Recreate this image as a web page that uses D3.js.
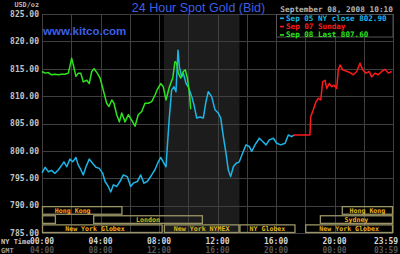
<!DOCTYPE html>
<html>
<head>
<meta charset="utf-8">
<script src="https://cdn.jsdelivr.net/npm/d3@7"></script>
<style>
  html, body { margin: 0; padding: 0; background: #000; }
  svg { display: block; }
  .mono { font-family: "DejaVu Sans Mono", monospace; font-weight: bold; }
</style>
</head>
<body>
<svg id="chart" width="400" height="254"></svg>
<script>
// hours are NY time, values USD/oz
const sep05Hours = [0, 0.21, 0.43, 0.66, 0.89, 1.11, 1.35, 1.5, 1.69, 1.91, 2.1, 2.32, 2.48, 2.65, 2.82, 3.01, 3.23, 3.47, 3.69, 3.92, 4.15, 4.31, 4.53, 4.7, 4.88, 5.11, 5.33, 5.56, 5.83, 6.06, 6.24, 6.52, 6.75, 6.97, 7.2, 7.5, 7.73, 7.95, 8.12, 8.34, 8.48, 8.57, 8.7, 8.86, 9.03, 9.16, 9.3, 9.39, 9.55, 9.66, 9.85, 10.0, 10.24, 10.39, 10.58, 10.8, 11.03, 11.21, 11.37, 11.6, 11.83, 12.05, 12.22, 12.4, 12.58, 12.74, 12.9, 13.08, 13.26, 13.49, 13.72, 13.95, 14.17, 14.34, 14.56, 14.86, 15.09, 15.32, 15.54, 15.82, 16.05, 16.32, 16.62, 16.84, 17.07, 17.23];
const sep05Values = [796.0, 797.0, 796.2, 796.4, 795.9, 796.5, 797.4, 798.0, 797.1, 798.5, 798.0, 798.8, 797.4, 796.6, 795.6, 797.1, 798.5, 797.7, 797.0, 796.8, 795.9, 794.4, 793.5, 792.5, 793.8, 793.5, 794.4, 795.6, 795.3, 793.5, 794.1, 794.4, 795.6, 794.1, 794.4, 795.6, 796.6, 798.0, 798.8, 797.7, 797.1, 800.8, 805.9, 811.1, 811.7, 810.8, 818.4, 815.4, 813.5, 814.2, 812.3, 811.7, 809.9, 808.4, 806.0, 806.2, 806.0, 809.0, 810.8, 809.9, 807.5, 806.9, 806.0, 802.6, 799.6, 796.5, 795.3, 797.1, 797.7, 798.0, 799.6, 801.1, 800.8, 799.9, 801.1, 802.3, 801.7, 801.1, 802.0, 802.3, 801.4, 801.1, 801.4, 802.9, 802.6, 802.9];

const sep07Hours = [17.23, 18.32, 18.37, 18.55, 18.74, 18.89, 19.06, 19.19, 19.35, 19.47, 19.64, 19.81, 19.97, 20.15, 20.26, 20.38, 20.56, 20.79, 21.06, 21.29, 21.52, 21.74, 21.93, 22.15, 22.38, 22.54, 22.77, 22.99, 23.23, 23.45, 23.68, 23.91];
const sep07Values = [802.9, 802.9, 806.2, 807.5, 809.0, 809.6, 809.3, 812.6, 812.9, 811.4, 812.3, 811.7, 812.0, 811.4, 814.8, 815.7, 814.8, 814.6, 814.3, 813.9, 814.5, 816.0, 814.8, 814.2, 814.5, 813.5, 814.2, 813.9, 814.5, 814.9, 814.2, 814.5];

const sep08Hours = [0, 0.21, 0.43, 0.66, 0.89, 1.11, 1.35, 1.57, 1.8, 2.03, 2.14, 2.32, 2.48, 2.65, 2.82, 3.06, 3.23, 3.4, 3.56, 3.78, 3.97, 4.19, 4.42, 4.58, 4.77, 4.92, 5.11, 5.29, 5.45, 5.68, 5.9, 6.13, 6.36, 6.58, 6.82, 7.04, 7.27, 7.5, 7.73, 7.88, 8.12, 8.29, 8.48, 8.7, 8.94, 9.09, 9.21, 9.32, 9.48, 9.66, 9.8, 9.94, 10.07, 10.17];
const sep08Values = [814.5, 814.2, 814.3, 813.9, 814.0, 813.9, 814.0, 814.0, 814.2, 816.9, 815.7, 813.6, 814.2, 814.2, 812.6, 812.9, 812.3, 814.5, 815.0, 814.2, 813.3, 811.1, 808.7, 808.1, 809.3, 808.7, 806.6, 805.3, 806.9, 805.3, 806.6, 805.6, 804.5, 806.6, 807.2, 808.7, 808.7, 809.0, 810.2, 811.2, 812.3, 811.7, 809.3, 811.6, 813.3, 816.3, 816.0, 814.2, 813.3, 814.5, 814.8, 813.3, 810.8, 807.6];

const legendLabels = ["Sep 05 NY close 802.90", "Sep 07 Sunday", "Sep 08 Last 807.60"];
const yTicks = [825, 820, 815, 810, 805, 800, 795, 790, 785];
const nyTickHours = [0, 4, 8, 12, 16, 20, 23.983];
const nyTickLabels = ["00:00", "04:00", "08:00", "12:00", "16:00", "20:00", "23:59"];
const gmtTickLabels = ["04:00", "08:00", "12:00", "16:00", "20:00", "00:00", "03:59"];

// trading sessions: row, start hour, end hour (negative = opened the previous day)
const sessionRows = [0, 0, 1, 1, 1, 2, 2, 2, 2];
const sessionStart = [-1.3, 20.5, -1, 3.5, 19, -1, 8.333, 13.5, 18];
const sessionEnd = [5.5, 24, 0.95, 11, 24, 8.25, 13.5, 17.33, 24];
const sessionNames = ["Hong Kong", "Hong Kong", "", "London", "Sydney", "New York Globex", "New York NYMEX", "NY Globex", "New York Globex"];
const nymexOpen = [8.333, 13.5];

const W = 400, H = 254;
const plot = { left: 42, right: 393, top: 14, bottom: 233 };
const COLORS = { cyan: "#1cb6e6", red: "#ff1a1a", green: "#2ee41e", grid: "#3f3f3f" };

const svg = d3.select("#chart");
svg.append("rect").attr("width", W).attr("height", H).attr("fill", "#000");

const x = d3.scaleLinear().domain([0, 24]).range([plot.left, plot.right]);
const y = d3.scaleLinear().domain([785, 825]).range([plot.bottom, plot.top]);

// NYMEX floor hours shading
svg.append("rect")
  .attr("x", x(nymexOpen[0]))
  .attr("y", plot.top)
  .attr("width", x(nymexOpen[1]) - x(nymexOpen[0]))
  .attr("height", plot.bottom - plot.top)
  .attr("fill", "#1c1c1c");

const grid = svg.append("g").attr("stroke", COLORS.grid).attr("stroke-width", 1);
grid.selectAll("line.v")
  .data(d3.range(0, 25, 2))
  .join("line")
  .attr("x1", (d) => Math.round(x(d)) + 0.5)
  .attr("x2", (d) => Math.round(x(d)) + 0.5)
  .attr("y1", plot.top)
  .attr("y2", plot.bottom);
grid.selectAll("line.h")
  .data(yTicks)
  .join("line")
  .attr("x1", plot.left)
  .attr("x2", plot.right)
  .attr("y1", (d) => Math.round(y(d)) + 0.5)
  .attr("y2", (d) => Math.round(y(d)) + 0.5);

// session boxes in the 785-790 band
const rowH = (y(785) - y(790)) / 3;
const sessions = sessionRows.map((r, i) => ({
  row: r, start: sessionStart[i], end: sessionEnd[i], name: sessionNames[i]
}));
const sess = svg.append("g");
sess.selectAll("rect")
  .data(sessions)
  .join("rect")
  .attr("x", (d) => x(Math.max(0, d.start)) + 0.5)
  .attr("y", (d) => y(790) + d.row * rowH + 1)
  .attr("width", (d) => x(d.end) - x(Math.max(0, d.start)) - 1)
  .attr("height", rowH - 1.5)
  .attr("fill", "none")
  .attr("stroke", "#9a9466")
  .attr("stroke-width", 1.3);
sess.selectAll("text")
  .data(sessions)
  .join("text")
  .attr("class", "mono")
  .attr("x", (d) => (x(d.start) + x(d.end)) / 2)
  .attr("y", (d) => y(790) + d.row * rowH + rowH / 2 + 0.5)
  .attr("dy", "0.35em")
  .attr("text-anchor", "middle")
  .attr("font-size", 6.6)
  .attr("fill", "#e6b420")
  .text((d) => d.name);

// price lines
const line = d3.line().x((d) => x(d[0])).y((d) => y(d[1]));
const series = [
  { hours: sep05Hours, values: sep05Values, color: COLORS.cyan },
  { hours: sep07Hours, values: sep07Values, color: COLORS.red },
  { hours: sep08Hours, values: sep08Values, color: COLORS.green },
];
series.forEach((s) => {
  svg.append("path")
    .datum(d3.zip(s.hours, s.values))
    .attr("fill", "none")
    .attr("stroke", s.color)
    .attr("stroke-width", 1.5)
    .attr("stroke-linejoin", "round")
    .attr("d", line);
});

// legend
const legend = svg.append("g");
legend.append("rect")
  .attr("x", 276.5).attr("y", plot.top + 0.5)
  .attr("width", plot.right - 276.5).attr("height", 22.5)
  .attr("fill", "#000").attr("stroke", "#555");
legendLabels.forEach((label, i) => {
  const c = series[i].color;
  legend.append("rect")
    .attr("x", 280).attr("y", 17.5 + i * 8.3)
    .attr("width", 4).attr("height", 1.6)
    .attr("fill", c);
  legend.append("text")
    .attr("class", "mono")
    .attr("x", 286).attr("y", 20.8 + i * 8.3)
    .attr("font-size", 7.6)
    .attr("fill", c)
    .text(label);
});

// y tick labels
svg.append("g").selectAll("text")
  .data(yTicks)
  .join("text")
  .attr("class", "mono")
  .attr("x", 39)
  .attr("y", (d) => y(d))
  .attr("dy", "0.35em")
  .attr("text-anchor", "end")
  .attr("font-size", 8)
  .attr("fill", "#c4c4c4")
  .text((d) => d3.format(".2f")(d));

svg.append("text").attr("class", "mono")
  .attr("x", 39).attr("y", 7).attr("text-anchor", "end")
  .attr("font-size", 6.8).attr("fill", "#b8b8b8").text("USD/oz");

// x tick labels (NY time and GMT)
const tickX = (h) => Math.min(x(h), W - 14);
svg.append("g").selectAll("text")
  .data(nyTickHours)
  .join("text")
  .attr("class", "mono")
  .attr("x", (d) => tickX(d))
  .attr("y", 243.5)
  .attr("text-anchor", "middle")
  .attr("font-size", 8)
  .attr("fill", "#d2d2d2")
  .text((d, i) => nyTickLabels[i]);
svg.append("g").selectAll("text")
  .data(nyTickHours)
  .join("text")
  .attr("class", "mono")
  .attr("x", (d) => tickX(d))
  .attr("y", 253)
  .attr("text-anchor", "middle")
  .attr("font-size", 8)
  .attr("fill", "#555")
  .text((d, i) => gmtTickLabels[i]);
svg.append("text").attr("class", "mono")
  .attr("x", 1).attr("y", 243.5).attr("font-size", 7)
  .attr("fill", "#c8c8c8").text("NY Time");
svg.append("text").attr("class", "mono")
  .attr("x", 1).attr("y", 252.5).attr("font-size", 7)
  .attr("fill", "#9a9a9a").text("GMT");

// titles
svg.append("text")
  .attr("x", 198.5).attr("y", 12)
  .attr("text-anchor", "middle")
  .attr("font-family", "Liberation Sans, Arial, sans-serif")
  .attr("font-size", 12.5)
  .attr("fill", "#3d5fe4")
  .text("24 Hour Spot Gold (Bid)");
svg.append("text")
  .attr("x", 43).attr("y", 35)
  .attr("font-family", "Liberation Sans, Arial, sans-serif")
  .attr("font-weight", "bold")
  .attr("font-size", 11.5)
  .attr("fill", "#3d5fe4")
  .text("www.kitco.com");
svg.append("text").attr("class", "mono")
  .attr("x", 393).attr("y", 11.5).attr("text-anchor", "end")
  .attr("font-size", 7.8).attr("fill", "#b4b4b4")
  .text("September 08, 2008 10:10");
</script>
</body>
</html>
